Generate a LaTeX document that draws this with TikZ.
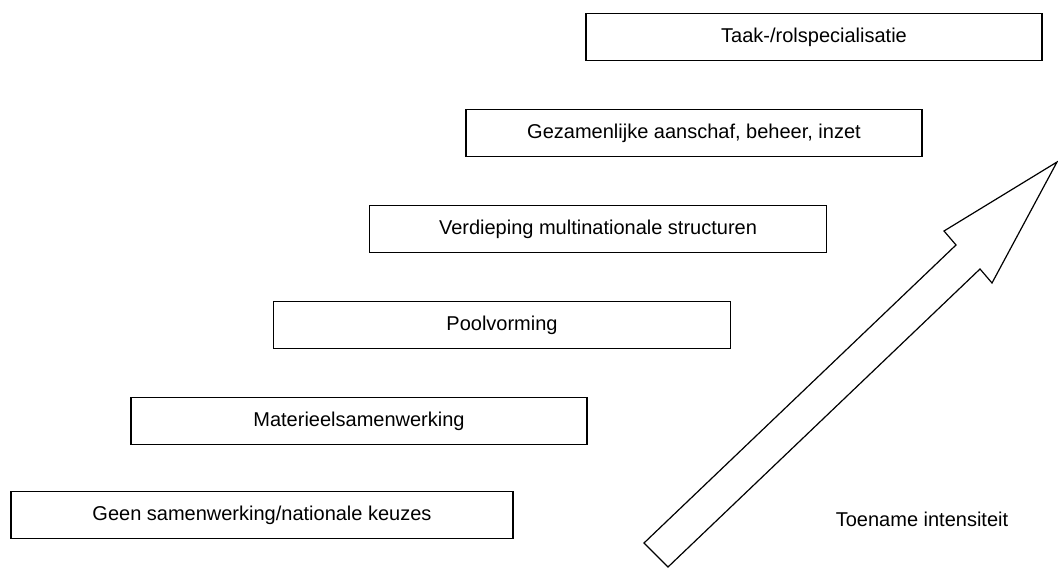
\documentclass[tikz,border=0pt]{standalone}
\usepackage{fontspec}
\setmainfont{Liberation Sans}
\usetikzlibrary{positioning}

\tikzset{
  stapbox/.style={draw, line width=1.2pt, minimum height=47, inner sep=0pt,
    font=\fontsize{20}{24}\selectfont},
  lostext/.style={font=\fontsize{20}{24}\selectfont, inner sep=0pt}
}

\begin{document}
\begin{tikzpicture}[x=1pt,y=1pt,yscale=-1,xscale=1]
		\useasboundingbox (0,0) rectangle (1058,568); %set diagram size to reference

		%Shape: Rectangle 
		\node[stapbox, minimum width=456] (taak) at (814,37) {Taak-/rolspecialisatie};
		%Shape: Rectangle 
		\node[stapbox, minimum width=456] (gezamenlijk) at (694,133) {Gezamenlijke aanschaf, beheer, inzet};
		%Shape: Rectangle 
		\node[stapbox, minimum width=457] (verdieping) at (598,229) {Verdieping multinationale structuren};
		%Shape: Rectangle 
		\node[stapbox, minimum width=457] (pool) at (502,325) {Poolvorming};
		%Shape: Rectangle 
		\node[stapbox, minimum width=456] (materieel) at (359,421) {Materieelsamenwerking};
		%Shape: Rectangle 
		\node[stapbox, minimum width=502] (geen) at (262,515) {Geen samenwerking/nationale keuzes};

		%Shape: Right Arrow 
		\draw[line width=1.2pt, line join=miter] (668,567) -- (980,269) -- (992,283) -- (1057,162)
		  -- (944,231) -- (956,245) -- (644,543) -- cycle ;

		% Text Node
		\node[lostext] (toename) at (922,519) {Toename intensiteit};
\end{tikzpicture}
\end{document}
